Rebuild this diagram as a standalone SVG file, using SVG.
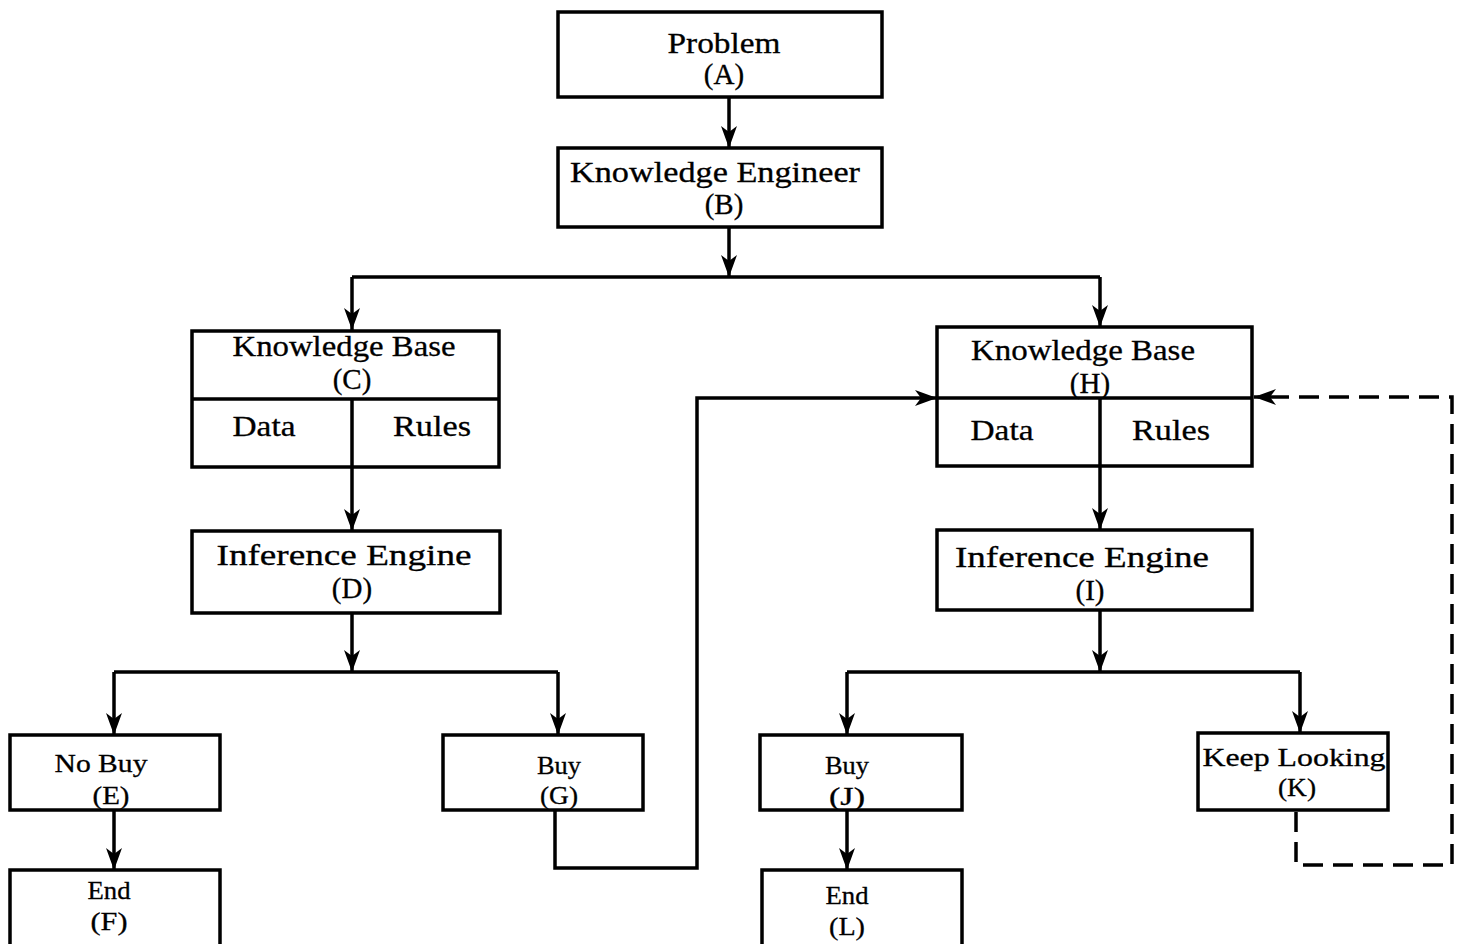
<svg xmlns="http://www.w3.org/2000/svg" width="1461" height="944" viewBox="0 0 1461 944">
<defs>
<marker id="arr" viewBox="0 -9 24 18" refX="22" refY="0" markerWidth="24" markerHeight="18" markerUnits="userSpaceOnUse" orient="auto">
<path d="M0,-8 L22,0 L0,8 L6,0 Z" fill="#000"/>
</marker>
</defs>
<style>
.box{fill:#fff;stroke:#000;stroke-width:3.5}
.div{fill:none;stroke:#000;stroke-width:3.5}
.ln{fill:none;stroke:#000;stroke-width:3.5}
.dash{fill:none;stroke:#000;stroke-width:3.5;stroke-dasharray:20 10}
text{font-family:"Liberation Serif","Times New Roman",serif;font-size:29px;fill:#000;stroke:#000;stroke-width:0.3;text-anchor:middle}
text.sm{font-size:26px}
</style>
<rect width="1461" height="944" fill="#fff"/>

<g id="connectors">
<path class="ln" d="M729,97 V148" marker-end="url(#arr)"/>
<path class="ln" d="M729,227 V277" marker-end="url(#arr)"/>
<path class="ln" d="M352,277 H1100"/>
<path class="ln" d="M352,277 V330" marker-end="url(#arr)"/>
<path class="ln" d="M1100,277 V327" marker-end="url(#arr)"/>
<path class="ln" d="M352,467 V531" marker-end="url(#arr)"/>
<path class="ln" d="M1100,466 V530" marker-end="url(#arr)"/>
<path class="ln" d="M352,613 V672" marker-end="url(#arr)"/>
<path class="ln" d="M114,672 H558"/>
<path class="ln" d="M114,672 V735" marker-end="url(#arr)"/>
<path class="ln" d="M558,672 V735" marker-end="url(#arr)"/>
<path class="ln" d="M1100,610 V672" marker-end="url(#arr)"/>
<path class="ln" d="M847,672 H1300"/>
<path class="ln" d="M847,672 V735" marker-end="url(#arr)"/>
<path class="ln" d="M1300,672 V733" marker-end="url(#arr)"/>
<path class="ln" d="M114,810 V870" marker-end="url(#arr)"/>
<path class="ln" d="M847,810 V870" marker-end="url(#arr)"/>
<path class="ln" d="M555,810 V868 H697 V398 H937" marker-end="url(#arr)"/>
<path class="dash" d="M1296,812 V865 H1452 V397 H1254" marker-end="url(#arr)"/>
</g>

<g id="A">
<rect class="box" x="558" y="12" width="324" height="85"/>
<text x="724" y="53" textLength="113" lengthAdjust="spacingAndGlyphs">Problem</text>
<text x="724" y="84">(A)</text>
</g>
<g id="B">
<rect class="box" x="558" y="148" width="324" height="79"/>
<text x="715" y="182" textLength="290" lengthAdjust="spacingAndGlyphs">Knowledge Engineer</text>
<text x="724" y="214">(B)</text>
</g>
<g id="C">
<rect class="box" x="192" y="331" width="307" height="136"/>
<path class="div" d="M192,399 H499 M352,399 V467"/>
<text x="344" y="356" textLength="223" lengthAdjust="spacingAndGlyphs">Knowledge Base</text>
<text x="352" y="389">(C)</text>
<text x="264" y="436" textLength="63" lengthAdjust="spacingAndGlyphs">Data</text>
<text x="432" y="436" textLength="78" lengthAdjust="spacingAndGlyphs">Rules</text>
</g>
<g id="D">
<rect class="box" x="192" y="531" width="308" height="82"/>
<text x="344" y="565" textLength="255" lengthAdjust="spacingAndGlyphs">Inference Engine</text>
<text x="352" y="598">(D)</text>
</g>
<g id="E">
<rect class="box" x="10" y="735" width="210" height="75"/>
<text class="sm" x="101" y="772" textLength="93" lengthAdjust="spacingAndGlyphs">No Buy</text>
<text class="sm" x="111" y="804" textLength="37" lengthAdjust="spacingAndGlyphs">(E)</text>
</g>
<g id="F">
<rect class="box" x="10" y="870" width="210" height="90"/>
<text class="sm" x="109" y="899" textLength="43" lengthAdjust="spacingAndGlyphs">End</text>
<text class="sm" x="109" y="930" textLength="37" lengthAdjust="spacingAndGlyphs">(F)</text>
</g>
<g id="G">
<rect class="box" x="443" y="735" width="200" height="75"/>
<text class="sm" x="559" y="774" textLength="44" lengthAdjust="spacingAndGlyphs">Buy</text>
<text class="sm" x="559" y="804" textLength="38" lengthAdjust="spacingAndGlyphs">(G)</text>
</g>
<g id="H">
<rect class="box" x="937" y="327" width="315" height="139"/>
<path class="div" d="M937,398 H1252 M1100,398 V466"/>
<text x="1083" y="360" textLength="224" lengthAdjust="spacingAndGlyphs">Knowledge Base</text>
<text x="1090" y="393">(H)</text>
<text x="1002" y="440" textLength="63" lengthAdjust="spacingAndGlyphs">Data</text>
<text x="1171" y="440" textLength="78" lengthAdjust="spacingAndGlyphs">Rules</text>
</g>
<g id="I">
<rect class="box" x="937" y="530" width="315" height="80"/>
<text x="1082" y="567" textLength="254" lengthAdjust="spacingAndGlyphs">Inference Engine</text>
<text x="1090" y="600">(I)</text>
</g>
<g id="J">
<rect class="box" x="760" y="735" width="202" height="75"/>
<text class="sm" x="847" y="774" textLength="44" lengthAdjust="spacingAndGlyphs">Buy</text>
<text class="sm" x="847" y="805" textLength="36" lengthAdjust="spacingAndGlyphs">(J)</text>
</g>
<g id="K">
<rect class="box" x="1198" y="733" width="190" height="77"/>
<text class="sm" x="1294" y="766" textLength="183" lengthAdjust="spacingAndGlyphs">Keep Looking</text>
<text class="sm" x="1297" y="796" textLength="38" lengthAdjust="spacingAndGlyphs">(K)</text>
</g>
<g id="L">
<rect class="box" x="762" y="870" width="200" height="90"/>
<text class="sm" x="847" y="904" textLength="43" lengthAdjust="spacingAndGlyphs">End</text>
<text class="sm" x="847" y="935" textLength="36" lengthAdjust="spacingAndGlyphs">(L)</text>
</g>
</svg>
